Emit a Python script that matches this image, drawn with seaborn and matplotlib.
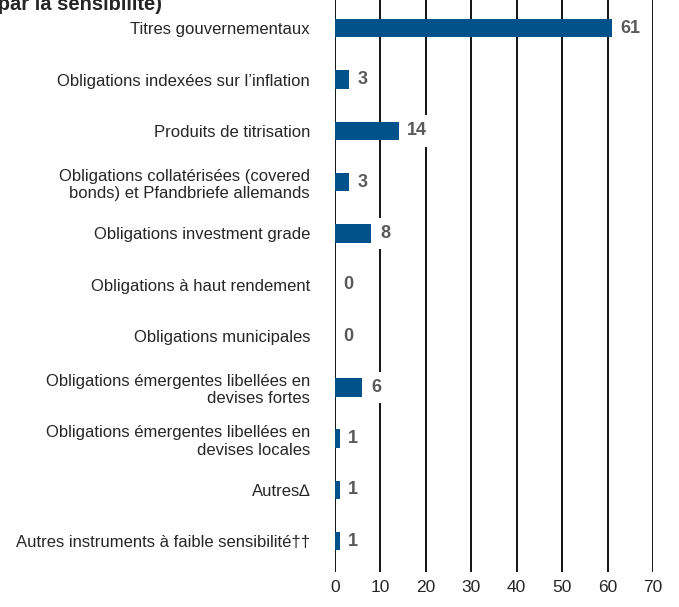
import matplotlib
matplotlib.use('Agg')
import matplotlib.pyplot as plt
import seaborn as sns
import pandas as pd

# catégories et valeurs
categories = [
    "Titres gouvernementaux",
    "Obligations indexées sur l’inflation",
    "Produits de titrisation",
    "Obligations collatérisées (covered\nbonds) et Pfandbriefe allemands",
    "Obligations investment grade",
    "Obligations à haut rendement",
    "Obligations municipales",
    "Obligations émergentes libellées en\ndevises fortes",
    "Obligations émergentes libellées en\ndevises locales",
    "Autres∆",
    "Autres instruments à faible sensibilité††",
]
valeurs = [61, 3, 14, 3, 8, 0, 0, 6, 1, 1, 1]
x_ticks = [0, 10, 20, 30, 40, 50, 60, 70]

sns.set_style("white")
plt.rcParams['font.family'] = ['Liberation Sans', 'DejaVu Sans']

data = pd.DataFrame({"cat": categories, "val": valeurs})

fig = plt.figure(figsize=(6.79, 6.07), dpi=100)
ax = fig.add_axes([335 / 679, 1 - 572 / 607, (653 - 335) / 679, 572 / 607])

sns.barplot(data=data, x="val", y="cat", orient="h", color="#00538a",
            saturation=1, width=0.36, linewidth=0, ax=ax, zorder=3)

# étiquettes de valeur sur fond blanc (masquent le quadrillage)
for i, v in enumerate(valeurs):
    ax.text(v + 1.9, i, str(v), va="center", ha="left", fontsize=13,
            fontweight="bold", color="#595959", zorder=4,
            bbox=dict(boxstyle="square,pad=0.4", fc="white", ec="none"))

ax.set_xlim(0, 70)
ax.set_ylim(10.6, -0.55)
ax.set_xticks(x_ticks)
ax.set_xlabel("")
ax.set_ylabel("")
for t in x_ticks:
    ax.axvline(t, color="black", lw=1.3, zorder=1)
ax.tick_params(axis="x", length=0, labelsize=12.5, pad=6)
ax.tick_params(axis="y", length=0, labelsize=12, pad=18)
for lbl in ax.get_yticklabels():
    lbl.set_horizontalalignment("right")
    lbl.set_multialignment("right")
sns.despine(ax=ax, left=True, bottom=True, top=True, right=True)

# titre coupé en haut, comme dans l'original
fig.text(162 / 679, 1 - 10 / 607, "(par la sensibilité)", ha="right",
         va="baseline", fontsize=14.5, fontweight="bold")

fig.savefig("out.png", dpi=100)
